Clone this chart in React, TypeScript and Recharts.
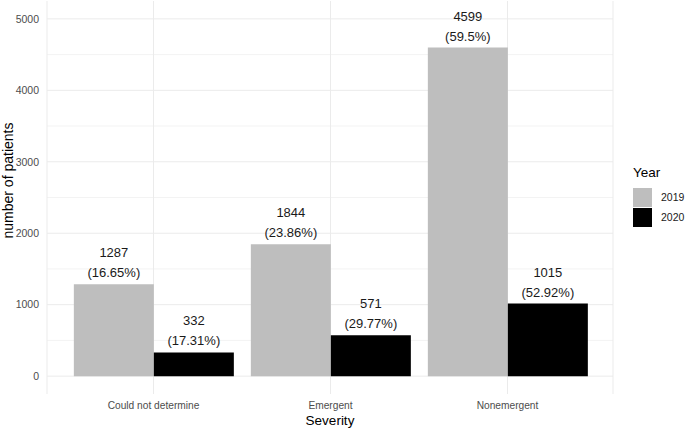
import React from "react";
import { BarChart, Bar, XAxis, YAxis, CartesianGrid, LabelList } from "recharts";

const categories = ["Could not determine", "Emergent", "Nonemergent"];
const values2019 = [1287, 1844, 4599];
const values2020 = [332, 571, 1015];
const pct2019 = ["16.65%", "23.86%", "59.5%"];
const pct2020 = ["17.31%", "29.77%", "52.92%"];
const yTicks = [0, 1000, 2000, 3000, 4000, 5000];
const yMinor = [500, 1500, 2500, 3500, 4500];
const seriesNames = ["2019", "2020"];
const seriesColors = ["#bebebe", "#000000"];

const data = categories.map((c, i) => ({
  severity: c,
  y2019: values2019[i],
  y2020: values2020[i],
}));

const FONT = "'Liberation Sans', Arial, sans-serif";

const makeLabel = (pcts: string[]) => (props: any) => {
  const { x, y, width, value, index } = props;
  const cx = Number(x) + Number(width) / 2;
  const top = Number(y);
  return (
    <text x={cx} textAnchor="middle" fontFamily={FONT} fontSize={13} fill="#1a1a1a">
      <tspan x={cx} y={top - 27}>{value}</tspan>
      <tspan x={cx} y={top - 7}>({pcts[index]})</tspan>
    </text>
  );
};

const YTitle = (props: any) => {
  const vb = props.viewBox || {};
  const cx = 13;
  const cy = Number(vb.y) + Number(vb.height) / 2 - 17;
  return (
    <text
      x={cx}
      y={cy}
      transform={`rotate(-90, ${cx}, ${cy})`}
      textAnchor="middle"
      fontFamily={FONT}
      fontSize={14}
      fill="#000"
    >
      number of patients
    </text>
  );
};

export default function App() {
  return (
    <div style={{ position: "absolute", left: 0, top: 0, width: 685, height: 428, background: "#fff" }}>
      <BarChart
        width={685}
        height={428}
        data={data}
        margin={{ top: 1, right: 72, left: 0, bottom: 0 }}
        barCategoryGap="5%"
        barGap={0}
      >
        <CartesianGrid horizontalValues={yMinor} vertical={false} stroke="#f3f3f3" strokeWidth={1} />
        <CartesianGrid horizontalValues={yTicks} stroke="#ebebeb" strokeWidth={1} />
        <XAxis
          dataKey="severity"
          tickLine={false}
          axisLine={false}
          height={34}
          padding={{ left: 18, right: 17 }}
          tick={{ fontSize: 10.2, fill: "#4d4d4d", fontFamily: FONT }}
          label={{ value: "Severity", position: "insideBottom", offset: 3, fontSize: 13.5, fill: "#000", fontFamily: FONT }}
        />
        <YAxis
          type="number"
          domain={[-250, 5250]}
          ticks={yTicks}
          allowDataOverflow
          tickLine={false}
          axisLine={false}
          width={47}
          tick={{ fontSize: 10.5, fill: "#4d4d4d", fontFamily: FONT }}
          label={<YTitle />}
        />
        <Bar dataKey="y2019" name={seriesNames[0]} fill={seriesColors[0]} isAnimationActive={false}>
          <LabelList dataKey="y2019" content={makeLabel(pct2019)} />
        </Bar>
        <Bar dataKey="y2020" name={seriesNames[1]} fill={seriesColors[1]} isAnimationActive={false}>
          <LabelList dataKey="y2020" content={makeLabel(pct2020)} />
        </Bar>
      </BarChart>
      <div style={{ position: "absolute", left: 633, top: 164, fontFamily: FONT }}>
        <div style={{ fontSize: 13.5, color: "#000", lineHeight: "18px", height: 23 }}>Year</div>
        {seriesNames.map((n, i) => (
          <div key={n} style={{ display: "flex", alignItems: "center", height: 20 }}>
            <div style={{ width: 19, height: 19, background: seriesColors[i] }} />
            <span style={{ fontSize: 10.5, color: "#1a1a1a", marginLeft: 9 }}>{n}</span>
          </div>
        ))}
      </div>
    </div>
  );
}
